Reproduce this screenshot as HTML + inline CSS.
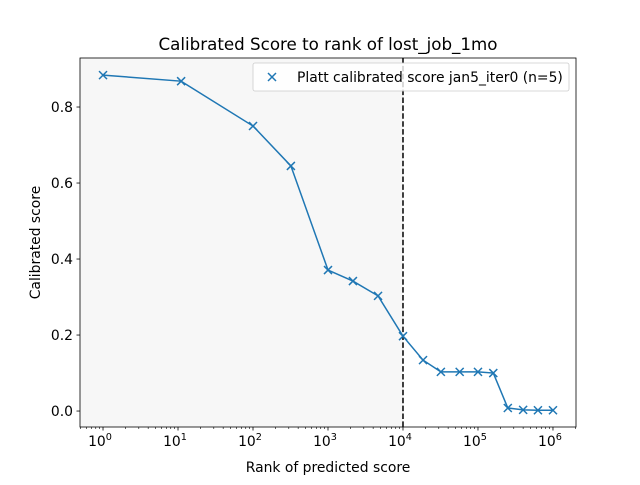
<!DOCTYPE html>
<html><head><meta charset="utf-8"><style>
body{margin:0;background:#fff;}
svg text{font-family:"DejaVu Sans","Liberation Sans",sans-serif;fill:#000;}
</style></head><body>
<svg id="chart" width="640" height="480" xmlns="http://www.w3.org/2000/svg"></svg>
<script>
const ranks=[1,11,100,320,1000,2150,4650,10000,18500,32000,57000,100000,160000,250000,400000,630000,1000000];
const scores=[0.884,0.868,0.75,0.645,0.371,0.342,0.303,0.197,0.134,0.103,0.103,0.103,0.100,0.008,0.003,0.002,0.002];
const yTicks=[0,0.2,0.4,0.6,0.8];
const yTickLabels=["0.0","0.2","0.4","0.6","0.8"];
const xDecades=[0,1,2,3,4,5,6];
const cutoffRank=10000;

const NS="http://www.w3.org/2000/svg";
const svg=document.getElementById('chart');
const L=80,R=576,T=58,B=427;
const xmin=-0.307,xmax=6.307,ymin=-0.042,ymax=0.929;
const X=v=>L+(Math.log10(v)-xmin)/(xmax-xmin)*(R-L);
const Y=v=>B-(v-ymin)/(ymax-ymin)*(B-T);
function el(t,a,p){const e=document.createElementNS(NS,t);for(const k in a)e.setAttribute(k,a[k]);(p||svg).appendChild(e);return e;}

const shade=el('rect',{x:L,y:T,width:X(cutoffRank)-L,height:B-T,fill:'#f7f7f7'});



const cut=el('line',{x1:X(cutoffRank),x2:X(cutoffRank),y1:T,y2:B,stroke:'#000','stroke-width':1.5,'stroke-dasharray':'5.5,2.4'});



const frame=el('rect',{x:L,y:T,width:R-L,height:B-T,fill:'none',stroke:'#000','stroke-width':0.8});



yTicks.forEach((v,i)=>{
  el('line',{x1:L-3.5,x2:L,y1:Y(v),y2:Y(v),stroke:'#000','stroke-width':0.8});
  const t=el('text',{x:L-7,y:Y(v)+5,'text-anchor':'end','font-size':13.9});
  t.textContent=yTickLabels[i];
  
  
});
xDecades.forEach(d=>{
  const v=Math.pow(10,d);
  el('line',{x1:X(v),x2:X(v),y1:B,y2:B+3.5,stroke:'#000','stroke-width':0.8});
  const t=el('text',{x:X(v)-3,y:B+19,'text-anchor':'middle','font-size':13.9});
  t.textContent='10';
  const s=el('tspan',{dy:-6,'font-size':9.7});s.textContent=d;t.appendChild(s);
  
  
});
for(let d=-1;d<=6;d++)for(let m=2;m<=9;m++){
  const v=m*Math.pow(10,d);const lv=Math.log10(v);
  if(lv<xmin||lv>xmax)continue;
  el('line',{x1:X(v),x2:X(v),y1:B,y2:B+2,stroke:'#000','stroke-width':0.6});
}

const pts=ranks.map((r,i)=>X(r)+','+Y(scores[i])).join(' ');
const line=el('polyline',{points:pts,fill:'none',stroke:'#1f77b4','stroke-width':1.5});


ranks.forEach((r,i)=>{
  const x=X(r),y=Y(scores[i]);
  const g=el('path',{d:`M${x-4},${y-4}L${x+4},${y+4}M${x-4},${y+4}L${x+4},${y-4}`,stroke:'#1f77b4','stroke-width':1.5});
  
  
});

const title=el('text',{x:(L+R)/2,y:50,'text-anchor':'middle','font-size':16.7});
title.textContent='Calibrated Score to rank of lost_job_1mo';


const xt=el('text',{x:(L+R)/2,y:472,'text-anchor':'middle','font-size':13.9});
xt.textContent='Rank of predicted score';


const yt=el('text',{x:40,y:(T+B)/2,'text-anchor':'middle','font-size':13.9,transform:`rotate(-90 40 ${(T+B)/2})`});
yt.textContent='Calibrated score';



const lg=el('g',{});


el('rect',{x:253,y:63,width:316,height:28,rx:2,fill:'#fff','fill-opacity':0.8,stroke:'#ccc','stroke-width':0.8},lg);
el('path',{d:'M268,73L276,81M268,81L276,73',stroke:'#1f77b4','stroke-width':1.5},lg);
const lt=el('text',{x:297,y:82,'font-size':13.9},lg);
lt.textContent='Platt calibrated score jan5_iter0 (n=5)';
</script>
</body></html>
